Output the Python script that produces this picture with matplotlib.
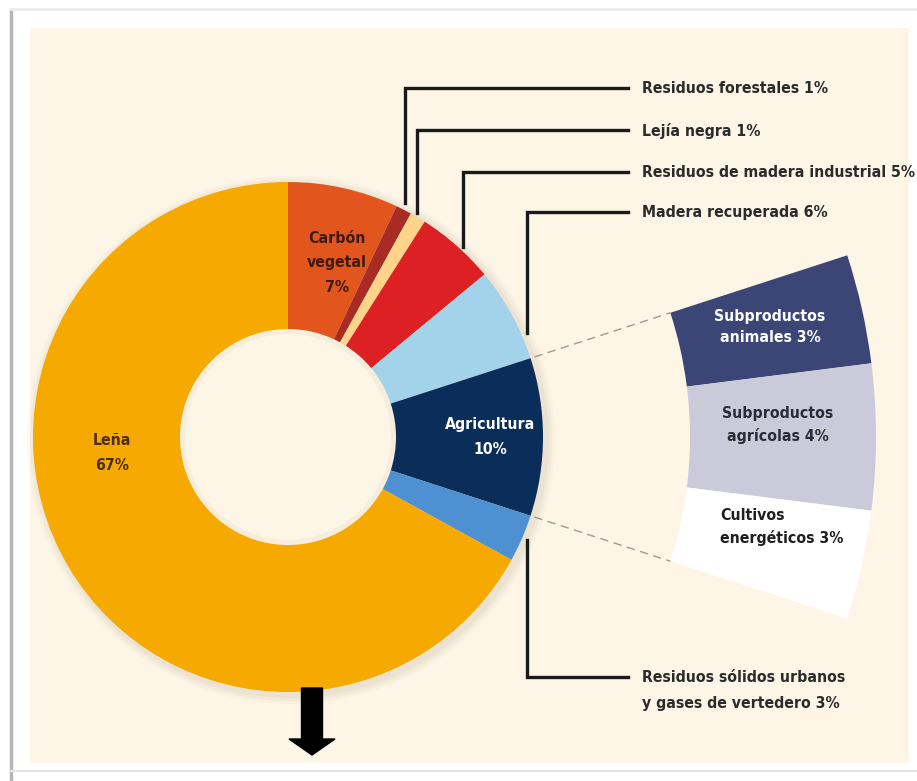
import matplotlib.pyplot as plt
import matplotlib.font_manager as fm
import numpy as np
from matplotlib.patches import Rectangle, Circle, Wedge, FancyArrow

# Donut data (% of total), clockwise from 12 o'clock
sources = ['Carbón vegetal', 'Residuos forestales', 'Lejía negra',
           'Residuos de madera industrial', 'Madera recuperada', 'Agricultura',
           'Residuos sólidos urbanos y gases de vertedero', 'Leña']
shares = [7, 1, 1, 5, 6, 10, 3, 67]
colors = ['#e2561d', '#a82b24', '#fdd489', '#dc2023', '#a3d3ea', '#0b2d5a',
          '#4d91d2', '#f6a900']

# Breakdown of the agriculture slice
agri_parts = ['Subproductos\nanimales 3%', 'Subproductos\nagrícolas 4%',
              'Cultivos\nenergéticos 3%']
agri_shares = [3, 4, 3]
agri_colors = ['#3b4676', '#cbcadb', '#ffffff']

W, H = 917, 781
PANEL = '#fdf5e6'

# look for a condensed bold face, the original uses a narrow font
fprop = fm.FontProperties(family='DejaVu Sans', weight='bold')
for f in fm.fontManager.ttflist:
    low = f.fname.lower()
    if ('narrow' in low or 'condensed' in low) and 'bold' in low and 'oblique' not in low and 'italic' not in low:
        fprop = fm.FontProperties(fname=f.fname)
        break


def Y(y):
    # image row -> axes y
    return H - y


fig = plt.figure(figsize=(W / 100, H / 100), dpi=100)
ax = fig.add_axes([0, 0, 1, 1])
ax.set_xlim(0, W)
ax.set_ylim(0, H)

# size the font so the longest leader label just fits the right edge
probe = ax.text(0, 0, 'Residuos de madera industrial 5%', fontproperties=fprop, fontsize=12)
fig.canvas.draw()
wpx = probe.get_window_extent().width
probe.remove()
FS = 12 * 272 / wpx

# frame and panel
ax.plot([11, 11], [Y(10), Y(781)], color='#b5b5b5', lw=2.5, zorder=0)
ax.plot([11, 917], [Y(9), Y(9)], color='#ececec', lw=2, zorder=0)
ax.plot([11, 917], [Y(771), Y(771)], color='#e6e6e6', lw=1.5, zorder=0)
ax.add_patch(Rectangle((30, Y(763)), 879, 735, facecolor=PANEL,
                       edgecolor='none', zorder=0))

cx, cy = 288, Y(437)
R, r_hole = 255, 108

# soft shadow around the donut
for k, a in enumerate([0.04, 0.05, 0.06]):
    ax.add_patch(Circle((cx + 3, cy - 3), R + 9 - 3 * k, facecolor='#8a7a60',
                        alpha=a, edgecolor='none', zorder=1))
ax.add_patch(Circle((cx, cy), r_hole + 1, facecolor=PANEL, edgecolor='none', zorder=1.5))
# faint inner shadow in the hole
ax.add_patch(Wedge((cx, cy), r_hole, 0, 360, width=5, facecolor='#eadfca',
                   edgecolor='none', alpha=0.35, zorder=1.6))

ax.pie(shares, colors=colors, startangle=90, counterclock=False,
       center=(cx, cy), radius=R,
       wedgeprops=dict(width=R - r_hole, linewidth=0, zorder=2))

# exploded agriculture ring, same angles as the agriculture slice
before = sum(shares[:sources.index('Agricultura')])
agri_start = 90 - 360 * before / 100
agri_end = agri_start - 360 * shares[sources.index('Agricultura')] / 100
R2_in, R2_out = 402, 588
ax.pie([v / 100 for v in agri_shares], colors=agri_colors, normalize=False,
       startangle=agri_start, counterclock=False, center=(cx, cy),
       radius=R2_out, wedgeprops=dict(width=R2_out - R2_in, linewidth=0, zorder=2))

# dashed connectors
for ang in (agri_start, agri_end):
    t = np.deg2rad(ang)
    ax.plot([cx + (R + 4) * np.cos(t), cx + R2_in * np.cos(t)],
            [cy + (R + 4) * np.sin(t), cy + R2_in * np.sin(t)],
            color='#9a9a9a', lw=1, ls=(0, (6, 4)), zorder=3)

ax.set_xlim(0, W)
ax.set_ylim(0, H)
ax.set_aspect('auto')
ax.axis('off')

# leader lines to the small slices
leaders = [
    ((405, 203), 88, 'Residuos forestales 1%'),
    ((417, 213), 130, 'Lejía negra 1%'),
    ((463, 247), 172, 'Residuos de madera industrial 5%'),
    ((527, 333), 212, 'Madera recuperada 6%'),
    ((527, 540), 677, 'Residuos sólidos urbanos\ny gases de vertedero 3%'),
]
for (x0, y0), ty, label in leaders:
    ax.plot([x0, x0, 628], [Y(y0), Y(ty), Y(ty)], color='#1a1a1a', lw=2.4,
            solid_joinstyle='miter', zorder=3)
    ax.text(642, Y(ty) + 7, label, ha='left', va='top', fontproperties=fprop,
            fontsize=FS, color='#2b2b2b', linespacing=1.9, zorder=4)

# slice labels
ax.text(337, Y(263), 'Carbón\nvegetal\n7%', ha='center', va='center',
        fontproperties=fprop, fontsize=FS, color='#3b1b10', linespacing=1.8, zorder=4)
ax.text(112, Y(453), 'Leña\n67%', ha='center', va='center', fontproperties=fprop,
        fontsize=FS, color='#4a2e05', linespacing=1.9, zorder=4)
ax.text(490, Y(437), 'Agricultura\n10%', ha='center', va='center',
        fontproperties=fprop, fontsize=FS, color='white', linespacing=1.75, zorder=4)

ax.text(770, Y(327), agri_parts[0], ha='center', va='center', fontproperties=fprop,
        fontsize=FS, color='white', linespacing=1.55, zorder=4)
ax.text(778, Y(425), agri_parts[1], ha='center', va='center', fontproperties=fprop,
        fontsize=FS, color='#2b2b33', linespacing=1.55, zorder=4)
ax.text(720, Y(527), agri_parts[2], ha='left', va='center', fontproperties=fprop,
        fontsize=FS, color='#1f1f1f', linespacing=1.55, zorder=4)

# arrow below the donut
ax.add_patch(FancyArrow(312, Y(688), 0, -(755 - 688), width=21,
                        head_width=46, head_length=16, length_includes_head=True,
                        color='black', zorder=4))

fig.savefig('out.png', dpi=100)
